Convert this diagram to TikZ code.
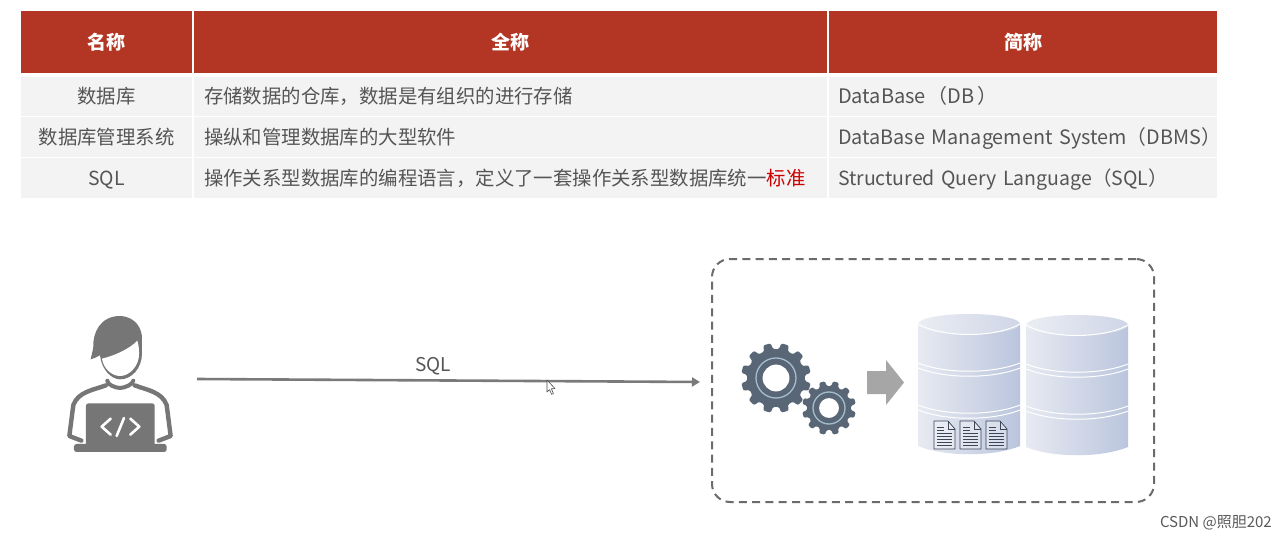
\documentclass[tikz,border=0pt]{standalone}
\usepackage{fontspec}
\setmainfont{Noto Sans CJK SC}
\usetikzlibrary{arrows.meta}
\definecolor{hdred}{RGB}{179,54,36}
\definecolor{rowgray}{RGB}{243,243,243}
\definecolor{txtgray}{RGB}{85,85,85}
\definecolor{iconx}{RGB}{118,118,118}
\definecolor{gearc}{RGB}{88,102,118}
\definecolor{gearl}{RGB}{165,190,205}
\definecolor{cylL}{RGB}{232,234,242}
\definecolor{cylR}{RGB}{186,197,221}
\definecolor{doc}{RGB}{60,68,85}
\tikzset{
  cellbase/.style={rectangle,anchor=north west,inner ysep=0pt,outer sep=0pt,text height=18pt,text depth=3pt},
  head/.style={cellbase,fill=hdred,minimum height=62pt,text=white,font=\fontsize{19}{22}\selectfont\bfseries,inner xsep=0pt},
  body/.style={cellbase,fill=rowgray,text=txtgray,font=\fontsize{19.4}{23}\selectfont,inner xsep=0pt},
  bodyl/.style={body,inner xsep=10pt,align=left},
  bodyc/.style={bodyl,text width=370pt,inner xsep=9pt},
}
\newcommand{\mygear}[7]{% x y outer root hole ring teeth
  \begin{scope}[shift={(#1,#2)}]
    \pgfmathsetmacro{\stepa}{360/#7}
    \fill[gearc,even odd rule,rounded corners=1.2pt] (0:#4)
      \foreach \i in {1,...,#7}{
        -- ({(\i-1)*\stepa+0.18*\stepa}:#4) -- ({(\i-1)*\stepa+0.3*\stepa}:#3)
        -- ({(\i-1)*\stepa+0.7*\stepa}:#3) -- ({(\i-1)*\stepa+0.82*\stepa}:#4)
        -- ({\i*\stepa}:#4)
      } -- cycle (0,0) circle (#5);
    \draw[gearl,line width=1.3pt] (0,0) circle (#6);
  \end{scope}}
\newcommand{\mycyl}[2]{% left x, top y
  \begin{scope}[shift={(#1,#2)}]
    \path[left color=cylL,right color=cylR]
      (0,0) arc[start angle=180,end angle=0,x radius=51,y radius=10]
      -- (102,122) .. controls (75,133) and (27,133) .. (0,122) -- cycle;
    \path[left color=cylL!85!white,right color=cylR!55!cylL] (51,0) ellipse[x radius=51,y radius=10];
    \draw[white,line width=1pt] (0,0) .. controls (25,14) and (77,14) .. (102,0);
    \foreach \yy in {39,44,81,86}{
      \draw[white,line width=1pt] (0,\yy) .. controls (28,\yy+11) and (74,\yy+11) .. (102,\yy);
    }
  \end{scope}}
\newcommand{\mydoc}[1]{% left x
  \begin{scope}[shift={(#1,421)}]
    \draw[doc,fill=white,fill opacity=0.35,line width=0.7pt,line join=round] (0,0) -- (14,0) -- (21,8) -- (21,28) -- (0,28) -- cycle;
    \draw[doc,line width=0.7pt] (14,0) -- (14,8) -- (21,8);
    \foreach \yy in {12,15,18,21,24}{\draw[doc,line width=0.7pt] (3,\yy) -- (18,\yy);}
    \draw[doc,line width=0.7pt] (3,6) -- (10,6) (3,9) -- (10,9);
  \end{scope}}
\begin{document}
\begin{tikzpicture}[x=1pt,y=-1pt]
\useasboundingbox (0,0) rectangle (1287,540);
\fill[white] (0,0) rectangle (1287,540);
% header
\node[head,minimum width=171pt] (h1) at (21,11) {名称};
\node[head,minimum width=633pt] (h2) at (194,11) {全称};
\node[head,minimum width=388pt] (h3) at (829,11) {简称};
% rows
\node[body,minimum width=171pt,minimum height=39pt] (a1) at (21,77) {数据库};
\node[bodyl,text width=613pt,minimum height=39pt] (b1) at (194,77) {存储数据的仓库，数据是有组织的进行存储};
\node[bodyc,minimum height=39pt,font=\fontsize{20}{23}\selectfont] (c1) at (829,77) {\mbox{DataBase\kern2pt（DB\kern3pt）}};
\node[body,minimum width=171pt,minimum height=40pt] (a2) at (21,117) {数据库管理系统};
\node[bodyl,text width=613pt,minimum height=40pt] (b2) at (194,117) {操纵和管理数据库的大型软件};
\node[bodyc,minimum height=40pt,font=\fontsize{19.8}{23}\selectfont] (c2) at (829,117) {\mbox{DataBase Management System（DBMS）}};
\node[body,minimum width=171pt,minimum height=40pt] (a3) at (21,158) {SQL};
\node[bodyl,text width=613pt,minimum height=40pt] (b3) at (194,158) {操作关系型数据库的编程语言，定义了一套操作关系型数据库统一\textcolor{red!80!black}{标准}};
\node[bodyc,minimum height=40pt,font=\fontsize{19.5}{23}\selectfont] (c3) at (829,158) {\mbox{Structured Query Language（SQL）}};
% person icon
\node[minimum width=110pt,minimum height=136pt,inner sep=0pt] (user) at (120,385) {};
\begin{scope}[shift={(50,310)},x=0.3333pt,y=-0.3333pt]
  \fill[iconx] (210,18) .. controls (150,18) and (128,70) .. (130,110) .. controls (128,125) and (124,138) .. (122,148)
     .. controls (132,144) and (142,142) .. (150,136) .. controls (155,180) and (185,208) .. (210,208)
     .. controls (245,208) and (276,175) .. (276,130) -- (276,90) .. controls (278,60) and (260,20) .. (210,18) -- cycle;
  \fill[white] (156,146) .. controls (200,135) and (240,115) .. (262,92) .. controls (268,110) and (268,130) .. (266,145)
     .. controls (260,175) and (235,198) .. (210,198) .. controls (185,198) and (160,175) .. (156,146) -- cycle;
  \draw[iconx,line width=4pt,line cap=round,line join=round]
     (172,212) .. controls (170,222) and (195,234) .. (210,234) .. controls (225,234) and (250,222) .. (250,212);
  \draw[iconx,line width=4.4pt,line cap=round,line join=round]
     (168,226) .. controls (130,240) and (85,245) .. (70,285) -- (58,378) -- (94,392);
  \draw[iconx,line width=4.4pt,line cap=round,line join=round]
     (254,226) .. controls (290,240) and (335,245) .. (350,285) -- (362,378) -- (326,392);
  \fill[iconx,rounded corners=2.5pt] (108,280) rectangle (314,412);
  \fill[iconx,rounded corners=2.5pt] (72,402) rectangle (350,426);
  \draw[white,line width=2.6pt,line cap=round,line join=round] (182,326) -- (155,350) -- (182,374);
  \draw[white,line width=2.6pt,line cap=round] (222,324) -- (200,378);
  \draw[white,line width=2.6pt,line cap=round,line join=round] (241,326) -- (268,350) -- (241,374);
\end{scope}
% dashed server box
\node[draw=black!58,dash pattern=on 8pt off 5.3pt,line width=2pt,rounded corners=18pt,
      anchor=north west,minimum width=442pt,minimum height=243pt,inner sep=0pt] (server) at (711,258) {};
% main connector
\coordinate (sqlstart) at (197,379);
\coordinate (sqlend) at (700,382);
\draw[black!52,line width=2.6pt,-{Triangle[length=8pt,width=9pt]}] (sqlstart) -- node[pos=0.47,above=1pt,text=txtgray,font=\fontsize{19}{22}\selectfont] (sqllabel) {SQL} (sqlend);
% cursor
\draw[black!70,fill=white,line width=0.6pt,line join=round] (547,380) -- (547,392) -- (549.6,389.6) -- (551.6,394.4) -- (553.4,393.6) -- (551.4,388.8) -- (555,388.6) -- cycle;
% gears
\mygear{776}{378}{35}{29}{13.5}{20}{12}
\mygear{829}{408}{27}{22}{10}{16}{12}
% grey block arrow
\fill[black!35] (867,371) -- (886,371) -- (886,360) -- (904,382.5) -- (886,405) -- (886,394) -- (867,394) -- cycle;
% cylinders
\mycyl{918}{324}
\mycyl{1026}{325}
\mydoc{934}\mydoc{960}\mydoc{986}
% watermark
\node[anchor=east,text=black!65,font=\fontsize{15}{17}\selectfont,inner sep=0pt] (wm) at (1272,523) {CSDN @照胆202};
\end{tikzpicture}
\end{document}
